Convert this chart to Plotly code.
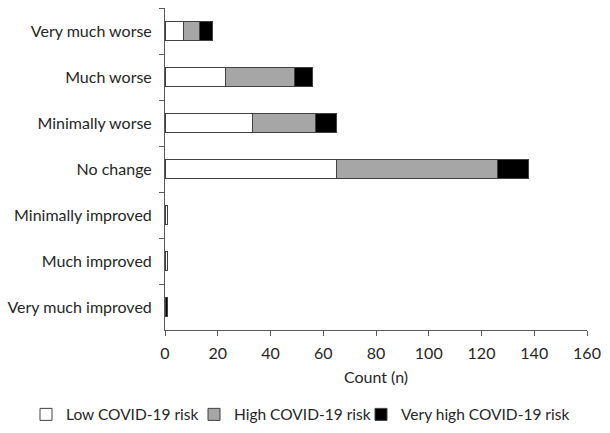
import plotly.graph_objects as go

categories = ["Very much worse", "Much worse", "Minimally worse", "No change",
              "Minimally improved", "Much improved", "Very much improved"]
low_risk = [7, 23, 33, 65, 1, 1, 0]
high_risk = [6, 26, 24, 61, 0, 0, 0]
very_high_risk = [5, 7, 8, 12, 0, 0, 1]
x_ticks = [0, 20, 40, 60, 80, 100, 120, 140, 160]

series = [
    ("Low COVID-19 risk", low_risk, "#ffffff", "legend"),
    ("High COVID-19 risk", high_risk, "#a6a6a6", "legend2"),
    ("Very high COVID-19 risk", very_high_risk, "#000000", "legend3"),
]

fig = go.Figure()
for name, vals, color, leg in series:
    fig.add_trace(go.Bar(
        y=categories, x=vals, name=name, orientation="h", legend=leg,
        marker=dict(color=color, line=dict(color="#404040", width=1)),
    ))

font_family = "Lato, 'Open Sans', sans-serif"
legend_common = dict(orientation="h", xanchor="left", xref="container",
                     y=0.042, yanchor="middle", yref="container",
                     font=dict(size=15.5), itemwidth=30,
                     bgcolor="rgba(0,0,0,0)")
fig.update_layout(
    barmode="stack",
    bargap=0.6,
    width=610, height=433,
    margin=dict(l=165, r=23, t=8, b=103, autoexpand=False),
    plot_bgcolor="white", paper_bgcolor="white",
    font=dict(family=font_family, size=16, color="#262626"),
    showlegend=True,
    legend=dict(x=26 / 610, **legend_common),
    legend2=dict(x=194 / 610, **legend_common),
    legend3=dict(x=361 / 610, **legend_common),
    xaxis=dict(range=[0, 160], tickvals=x_ticks, showgrid=False,
               showline=True, linecolor="#595959", linewidth=1,
               ticks="outside", ticklen=5, tickcolor="#595959",
               ticklabelstandoff=4,
               title=dict(text="Count (n)", font=dict(size=16), standoff=10),
               zeroline=False, fixedrange=True, automargin=False),
    yaxis=dict(categoryorder="array", categoryarray=categories, autorange="reversed",
               showgrid=False, showline=True, linecolor="#595959", linewidth=1,
               ticks="outside", ticklen=5, tickcolor="#595959",
               tickson="boundaries", ticklabelstandoff=9, fixedrange=True,
               automargin=False),
)
fig.write_html("out.html", config={"displayModeBar": False},
               post_script="document.body.style.margin='0';")
